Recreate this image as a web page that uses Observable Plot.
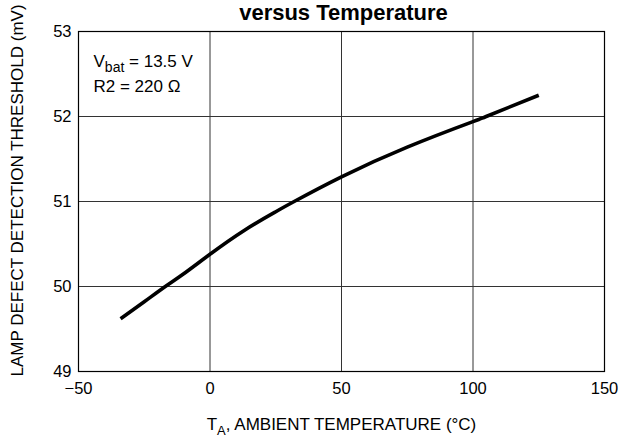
<!DOCTYPE html>
<html><head><meta charset="utf-8">
<script src="https://cdn.jsdelivr.net/npm/d3@7"></script>
<script src="https://cdn.jsdelivr.net/npm/@observablehq/plot@0.6"></script>
<style>html,body{margin:0;padding:0;background:#fff}svg{display:block}</style>
</head><body><div id="chart"></div>
<script>
const temperature = [-34, -25, -17, -10, 0, 13, 25, 32, 50, 75, 100, 105, 125];
const threshold = [49.62, 49.82, 50.0, 50.15, 50.38, 50.66, 50.88, 51.0, 51.29, 51.64, 51.94, 52.0, 52.25];
const xTicks = [-50, 0, 50, 100, 150];
const yTicks = [49, 50, 51, 52, 53];
const titleText = "versus Temperature";
const xLabel = "TA, AMBIENT TEMPERATURE (°C)";
const yLabel = "LAMP DEFECT DETECTION THRESHOLD (mV)";
const annot1 = "Vbat = 13.5 V";
const annot2 = "R2 = 220 Ω";

const data = temperature.map((t, i) => ({t, v: threshold[i]}));
const font = "'Liberation Sans', Arial, Helvetica, sans-serif";

const chart = Plot.plot({
  width: 620,
  height: 442,
  marginLeft: 78,
  marginRight: 16,
  marginTop: 31,
  marginBottom: 71,
  style: {fontFamily: font, fontSize: "16px", color: "#000", background: "#fff", overflow: "visible"},
  x: {domain: [-50, 150]},
  y: {domain: [49, 53]},
  marks: [
    Plot.gridX(xTicks, {stroke: "#333", strokeOpacity: 1, strokeWidth: 1}),
    Plot.gridY(yTicks, {stroke: "#333", strokeOpacity: 1, strokeWidth: 1}),
    Plot.frame({stroke: "#000", strokeWidth: 1.2}),
    Plot.axisX({ticks: xTicks, tickSize: 0, tickPadding: 11, label: null, fontSize: 16.5}),
    Plot.axisY({ticks: yTicks, tickSize: 0, tickPadding: 7, label: null, fontSize: 16.5, tickFormat: "d"}),
    Plot.line(data, {x: "t", y: "v", stroke: "#000", strokeWidth: 3.6, curve: "natural", strokeLinecap: "butt"}),
    Plot.text([titleText], {frameAnchor: "top", dx: 2, dy: -19, lineAnchor: "middle", fontSize: 22, fontWeight: "bold"}),
    Plot.text([xLabel], {frameAnchor: "bottom", dy: 53, lineAnchor: "middle", fontSize: 17}),
    Plot.text([yLabel], {frameAnchor: "left", textAnchor: "middle", rotate: -90, dx: -61, dy: -11, lineAnchor: "middle", fontSize: 17}),
    Plot.text([annot1], {frameAnchor: "top-left", textAnchor: "start", dx: 15, dy: 29.6, lineAnchor: "middle", fontSize: 17}),
    Plot.text([annot2], {frameAnchor: "top-left", textAnchor: "start", dx: 15, dy: 55, lineAnchor: "middle", fontSize: 17})
  ]
});
document.getElementById("chart").appendChild(chart);

// subscripts
const svg = d3.select(chart);
function byText(s) {
  return svg.selectAll("text").filter(function () { return this.textContent === s; });
}
const xl = byText(xLabel);
xl.text(null);
xl.append("tspan").text("T");
xl.append("tspan").attr("dy", 5).attr("font-size", 13).text("A");
xl.append("tspan").attr("dy", -5).text(", AMBIENT TEMPERATURE (°C)");
const a1 = byText(annot1);
a1.text(null);
a1.append("tspan").text("V");
a1.append("tspan").attr("dy", 5).attr("font-size", 14).text("bat");
a1.append("tspan").attr("dy", -5).text(" = 13.5 V");
</script>
</body></html>
